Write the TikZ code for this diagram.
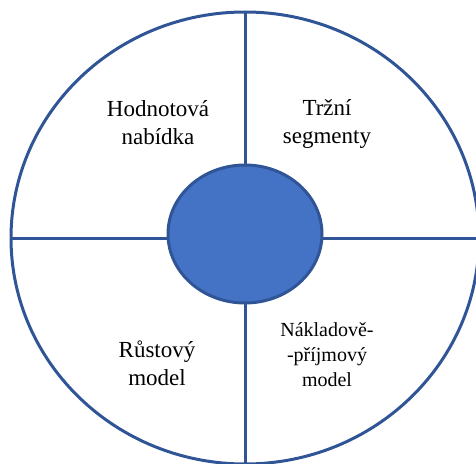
\documentclass[tikz,border=0pt]{standalone}
\usepackage{fontspec}
\setmainfont{Liberation Serif}
\usetikzlibrary{shapes.geometric}

\definecolor{rimblue}{RGB}{47,85,151}
\definecolor{coreblue}{RGB}{68,114,196}

\tikzset{
  rim/.style={draw=rimblue,line width=3pt},
  label/.style={align=center,font=\fontsize{23}{28}\selectfont},
}

\begin{document}
\begin{tikzpicture}[x=1pt,y=-1pt]
\useasboundingbox (0,0) rectangle (476,463);

\node[rim,ellipse,inner sep=0pt,outer sep=0pt,minimum width=468pt,minimum height=452pt] (wheel) at (245,238) {};

\draw[rim] (wheel.north) -- (wheel.south);
\draw[rim] (wheel.west) -- (wheel.east);

\node[rim,ellipse,fill=coreblue,inner sep=0pt,minimum width=154pt,minimum height=138pt] (core) at (245,234) {};

\node[label] (value) at (158,123) {Hodnotová\\nabídka};
\node[label] (segments) at (327,124) {Tržní\\segmenty};
\node[label] (growth) at (157,363) {Růstový\\model};
\node[label,font=\fontsize{20}{25}\selectfont] (costs) at (327,355) {Nákladově-\\-příjmový\\model};

\end{tikzpicture}
\end{document}
